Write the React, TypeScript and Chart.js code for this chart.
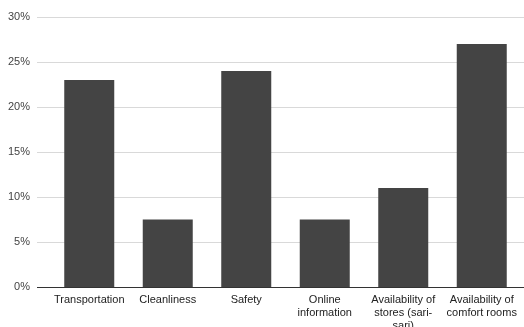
import React, { useEffect, useRef } from "react";
import { Chart, registerables } from "chart.js";

Chart.register(...registerables);

const categories: string[][] = [
  ["Transportation"],
  ["Cleanliness"],
  ["Safety"],
  ["Online", "information"],
  ["Availability of", "stores (sari-", "sari)"],
  ["Availability of", "comfort rooms"],
];
const values: number[] = [23, 7.5, 24, 7.5, 11, 27];
const yTicks: number[] = [0, 5, 10, 15, 20, 25, 30];

const gridPlugin = {
  id: "extGrid",
  beforeDatasetsDraw(chart: any) {
    const { ctx, chartArea, scales } = chart;
    const y = scales.y;
    const x0 = chartArea.left - 13;
    const x1 = chart.width;
    ctx.save();
    yTicks.forEach((t) => {
      const py = Math.round(y.getPixelForValue(t)) + 0.5;
      ctx.beginPath();
      ctx.lineWidth = 1;
      ctx.strokeStyle = t === 0 ? "#333333" : "#d9d9d9";
      ctx.moveTo(x0, py);
      ctx.lineTo(x1, py);
      ctx.stroke();
    });
    ctx.restore();
  },
};

export default function App() {
  const ref = useRef<HTMLCanvasElement>(null);
  useEffect(() => {
    const chart = new Chart(ref.current!, {
      type: "bar",
      data: {
        labels: categories,
        datasets: [
          {
            data: values,
            backgroundColor: "#444444",
            barPercentage: 0.637,
            categoryPercentage: 1,
          },
        ],
      },
      options: {
        responsive: false,
        animation: false,
        layout: { padding: { top: 17, right: 3, left: 0, bottom: 0 } },
        plugins: { legend: { display: false }, tooltip: { enabled: false } },
        scales: {
          x: {
            grid: { display: false, drawTicks: false },
            border: { display: false },
            ticks: {
              autoSkip: false,
              maxRotation: 0,
              minRotation: 0,
              padding: 6,
              color: "#222222",
              font: { family: "Liberation Sans, Arial", size: 11 },
            },
            afterFit: (s: any) => {
              s.height = 40;
              s.paddingTop = 0;
              s.paddingBottom = 0;
              s.paddingLeft = 0;
              s.paddingRight = 0;
            },
          },
          y: {
            min: 0,
            max: 30,
            grid: { display: false, drawTicks: false },
            border: { display: false },
            ticks: {
              stepSize: 5,
              padding: 20,
              color: "#444444",
              font: { family: "Liberation Sans, Arial", size: 11 },
              callback: (v: any) => v + "%",
            },
            afterFit: (s: any) => {
              s.width = 50;
              s.paddingTop = 0;
              s.paddingBottom = 0;
              s.paddingLeft = 0;
              s.paddingRight = 0;
            },
          },
        },
      },
      plugins: [gridPlugin],
    });
    return () => chart.destroy();
  }, []);
  return (
    <div style={{ position: "absolute", left: 0, top: 0, width: 524, height: 327, background: "#fff" }}>
      <canvas ref={ref} width={524} height={327} />
    </div>
  );
}
